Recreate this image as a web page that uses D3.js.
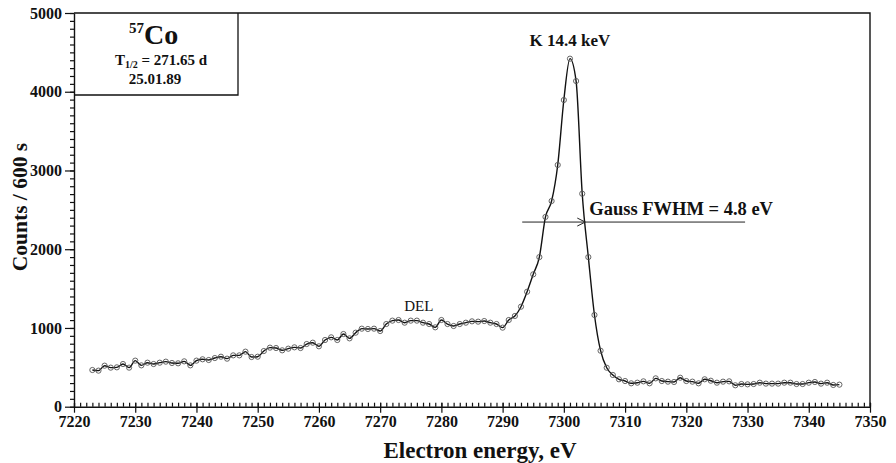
<!DOCTYPE html>
<html>
<head>
<meta charset="utf-8">
<script src="https://cdn.jsdelivr.net/npm/d3@7"></script>
<style>
  body { margin: 0; background: #fff; }
  svg { display: block; }
  text { font-family: 'Liberation Serif', 'Times New Roman', serif; fill: #111; }
</style>
</head>
<body>
<div id="chart"></div>
<script>
// 57Co K-line electron spectrum, counts per 600 s per 1 eV channel

const energy = [
  7223, 7224, 7225, 7226, 7227, 7228, 7229, 7230, 7231, 7232,
  7233, 7234, 7235, 7236, 7237, 7238, 7239, 7240, 7241, 7242,
  7243, 7244, 7245, 7246, 7247, 7248, 7249, 7250, 7251, 7252,
  7253, 7254, 7255, 7256, 7257, 7258, 7259, 7260, 7261, 7262,
  7263, 7264, 7265, 7266, 7267, 7268, 7269, 7270, 7271, 7272,
  7273, 7274, 7275, 7276, 7277, 7278, 7279, 7280, 7281, 7282,
  7283, 7284, 7285, 7286, 7287, 7288, 7289, 7290, 7291, 7292,
  7293, 7294, 7295, 7296, 7297, 7298, 7299, 7300, 7301, 7302,
  7303, 7304, 7305, 7306, 7307, 7308, 7309, 7310, 7311, 7312,
  7313, 7314, 7315, 7316, 7317, 7318, 7319, 7320, 7321, 7322,
  7323, 7324, 7325, 7326, 7327, 7328, 7329, 7330, 7331, 7332,
  7333, 7334, 7335, 7336, 7337, 7338, 7339, 7340, 7341, 7342,
  7343, 7344, 7345,
]

const counts = [
  466, 458, 521, 496, 500, 542, 496, 585, 525, 559,
  542, 559, 572, 555, 551, 576, 525, 585, 602, 593,
  618, 635, 610, 652, 652, 699, 631, 635, 707, 750,
  745, 716, 737, 754, 745, 796, 813, 767, 847, 881,
  847, 923, 868, 940, 991, 987, 991, 961, 1050, 1093,
  1101, 1067, 1093, 1093, 1067, 1050, 1008, 1101, 1050, 1025,
  1050, 1067, 1084, 1080, 1088, 1067, 1050, 1004, 1101, 1152,
  1270, 1460, 1681, 1900, 2410, 2612, 3070, 3895, 4420, 4136,
  2705, 1900, 1165, 711, 495, 403, 348, 326, 297, 305,
  322, 297, 360, 326, 318, 314, 368, 326, 318, 297,
  348, 330, 305, 318, 322, 272, 288, 284, 288, 305,
  293, 293, 293, 305, 305, 288, 288, 305, 314, 293,
  305, 276, 280,
]

// 刻度
const xTickLabels = [7220, 7230, 7240, 7250, 7260, 7270, 7280, 7290, 7300, 7310, 7320, 7330, 7340, 7350]
const yTickLabels = [0, 1000, 2000, 3000, 4000, 5000]

// 标注 (data coordinates)
const fwhmLevel = 2345
const fwhmFrom = 7293.2
const fwhmTo = 7329.6
const fwhmArrowAt = 7303.5

const width = 896
const height = 463
const margin = {top: 13, right: 26, bottom: 56, left: 74}
const innerW = width - margin.left - margin.right
const innerH = 406.7 - margin.top

const svg = d3.select('#chart').append('svg')
  .attr('width', width)
  .attr('height', height)

const root = svg.append('g').attr('transform', `translate(${margin.left},${margin.top})`)

const x = d3.scaleLinear().domain([7220, 7350]).range([0, innerW])
const y = d3.scaleLinear().domain([0, 5000]).range([innerH, 0])

// frame: top + right
root.append('path')
  .attr('d', `M0,0H${innerW}V${innerH}`)
  .attr('fill', 'none')
  .attr('stroke', '#111')
  .attr('stroke-width', 1.4)

// x axis - minor ticks point up, major ticks point down with labels
const xMinor = root.append('g')
  .attr('transform', `translate(0,${innerH})`)
  .call(d3.axisTop(x).tickValues(d3.range(7220, 7351, 1)).tickSize(4).tickFormat(''))
xMinor.select('.domain').remove()

const xMajor = root.append('g')
  .attr('transform', `translate(0,${innerH})`)
  .call(d3.axisBottom(x).tickValues(xTickLabels).tickSize(6).tickSizeOuter(0).tickPadding(3).tickFormat(d3.format('d')))

xMajor.selectAll('.tick line').attr('y1', -4)

// y axis - minor and major ticks both point left
const yMinor = root.append('g')
  .call(d3.axisLeft(y).tickValues(d3.range(0, 5001, 100)).tickSize(4).tickFormat(''))
yMinor.select('.domain').remove()

const yMajor = root.append('g')
  .call(d3.axisLeft(y).tickValues(yTickLabels).tickSize(9).tickSizeOuter(0).tickPadding(3).tickFormat(d3.format('d')))

root.selectAll('.domain').attr('stroke', '#111').attr('stroke-width', 1.4)
root.selectAll('.tick line').attr('stroke', '#111').attr('stroke-width', 1.2)
root.selectAll('.tick text')
  .attr('font-family', "'Liberation Serif', 'Times New Roman', serif")
  .attr('font-size', 16)
  .attr('font-weight', 'bold')
  .attr('fill', '#111')

// 数据曲线
const line = d3.line()
  .x((d) => x(d[0]))
  .y((d) => y(d[1]))
  .curve(d3.curveMonotoneX)

const points = energy.map((e, i) => [e, counts[i]])

root.append('path')
  .datum(points)
  .attr('d', line)
  .attr('fill', 'none')
  .attr('stroke', '#111')
  .attr('stroke-width', 1.4)

root.append('g')
  .selectAll('circle')
  .data(points)
  .join('circle')
  .attr('cx', (d) => x(d[0]))
  .attr('cy', (d) => y(d[1]))
  .attr('r', 2.6)
  .attr('fill', 'none')
  .attr('stroke', '#555')
  .attr('stroke-width', 0.9)

// FWHM 标注线 + 箭头
const fy = y(fwhmLevel)
root.append('line')
  .attr('x1', x(fwhmFrom))
  .attr('x2', x(fwhmTo))
  .attr('y1', fy)
  .attr('y2', fy)
  .attr('stroke', '#222')
  .attr('stroke-width', 1)

const ax = x(fwhmArrowAt)
root.append('path')
  .attr('d', `M${ax - 8},${fy - 4}L${ax},${fy}L${ax - 8},${fy + 4}`)
  .attr('fill', 'none')
  .attr('stroke', '#222')
  .attr('stroke-width', 1)

root.append('text')
  .attr('x', x(fwhmArrowAt) + 4)
  .attr('y', fy - 7)
  .attr('font-size', 18.5)
  .attr('font-weight', 'bold')
  .text('Gauss FWHM = 4.8 eV')

root.append('text')
  .attr('x', x(7301))
  .attr('y', y(4580))
  .attr('text-anchor', 'middle')
  .attr('font-size', 17)
  .attr('font-weight', 'bold')
  .text('K 14.4 keV')

root.append('text')
  .attr('x', x(7276.3))
  .attr('y', y(1220))
  .attr('text-anchor', 'middle')
  .attr('font-size', 15)
  .text('DEL')

// 左上角信息框
const box = root.append('g')
box.append('path')
  .attr('d', 'M0,82H164V0')
  .attr('fill', 'none')
  .attr('stroke', '#111')
  .attr('stroke-width', 1.3)

box.append('text')
  .attr('x', 70)
  .attr('y', 20)
  .attr('text-anchor', 'end')
  .attr('font-size', 15)
  .attr('font-weight', 'bold')
  .text('57')

box.append('text')
  .attr('x', 70)
  .attr('y', 30.5)
  .attr('font-size', 28)
  .attr('font-weight', 'bold')
  .text('Co')

const half = box.append('text')
  .attr('x', 87)
  .attr('y', 52)
  .attr('text-anchor', 'middle')
  .attr('font-size', 15)
  .attr('font-weight', 'bold')
half.append('tspan').text('T')
half.append('tspan').attr('font-size', 10).attr('dy', 3).text('1/2')
half.append('tspan').attr('dy', -3).text(' = 271.65 d')

box.append('text')
  .attr('x', 81)
  .attr('y', 71)
  .attr('text-anchor', 'middle')
  .attr('font-size', 15)
  .attr('font-weight', 'bold')
  .text('25.01.89')

// 轴标题
svg.append('text')
  .attr('x', 480)
  .attr('y', 458)
  .attr('text-anchor', 'middle')
  .attr('font-size', 23)
  .attr('font-weight', 'bold')
  .text('Electron energy, eV')

svg.append('text')
  .attr('transform', 'translate(27,207) rotate(-90)')
  .attr('text-anchor', 'middle')
  .attr('font-size', 21.5)
  .attr('font-weight', 'bold')
  .text('Counts / 600 s')
</script>
</body>
</html>
